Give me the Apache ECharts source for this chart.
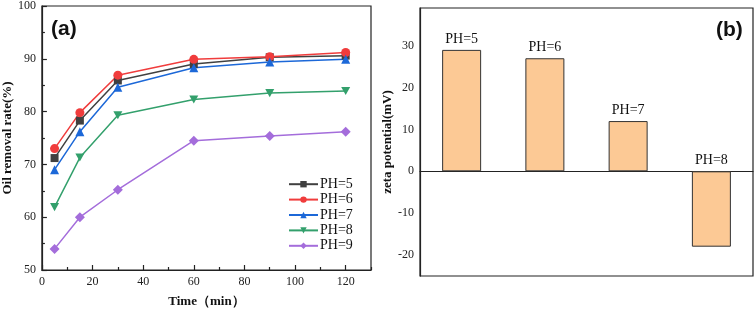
<!DOCTYPE html>
<html><head><meta charset="utf-8">
<script src="https://cdn.jsdelivr.net/npm/echarts@6/dist/echarts.min.js"></script>
<style>html,body{margin:0;padding:0;background:#fff}#c{width:756px;height:313px}</style>
</head><body><div id="c"></div>
<script>
var times = [5, 15, 30, 60, 90, 120];
var ph5 = [71.2, 78.3, 85.9, 89.0, 90.3, 90.6];
var ph6 = [73.0, 79.8, 86.9, 89.9, 90.4, 91.2];
var ph7 = [69.0, 76.2, 84.6, 88.3, 89.4, 89.9];
var ph8 = [61.9, 71.3, 79.3, 82.3, 83.5, 83.9];
var ph9 = [54.0, 60.0, 65.2, 74.5, 75.4, 76.2];
var lineNames = ['PH=5', 'PH=6', 'PH=7', 'PH=8', 'PH=9'];
var xTicks = [0, 20, 40, 60, 80, 100, 120];
var xMinorTicks = [10, 30, 50, 70, 90, 110, 130];
var barCats = ['PH=5', 'PH=6', 'PH=7', 'PH=8'];
var zeta = [29, 27, 12, -18];
var zTicks = [-20, -10, 0, 10, 20, 30];
var zMinorTicks = [-25, -15, -5, 5, 15, 25, 35];

var serif = 'Liberation Serif';
var sans = 'Liberation Sans';
var colors = ['#404040', '#f03c3c', '#1c68d8', '#33a06c', '#a46ddb'];
var symbols = ['rect', 'circle', 'triangle', 'path://M0,0 L10,0 L5,9 Z', 'diamond'];
var sizes = [8, 9, 9, 9, 10];
var lineData = [ph5, ph6, ph7, ph8, ph9];

var chart = echarts.init(document.getElementById('c'));
var axisLineStyle = {color: '#222', width: 1.2};
var series = lineData.map(function (d, i) {
  return {
    name: lineNames[i], type: 'line', xAxisIndex: 0, yAxisIndex: 0,
    data: times.map(function (t, k) { return [t, d[k]]; }),
    symbol: symbols[i], symbolSize: sizes[i], symbolKeepAspect: true,
    lineStyle: {color: colors[i], width: 1.5},
    itemStyle: {color: colors[i]}
  };
});
series.push({
  type: 'bar', xAxisIndex: 2, yAxisIndex: 2, data: zeta, barWidth: 39,
  itemStyle: {color: '#fcc995', borderColor: '#333', borderWidth: 1},
  label: {show: true, position: 'top', distance: 4, fontFamily: serif, fontSize: 14, color: '#111',
    formatter: function (p) { return barCats[p.dataIndex]; }}
});

var tickLabel = {fontFamily: serif, fontSize: 12, color: '#222', margin: 6};

chart.setOption({
  animation: false,
  textStyle: {fontFamily: serif},
  grid: [
    {left: 37, top: 5, width: 334, height: 270, show: true, borderColor: '#222', borderWidth: 1.2},
    {left: 420, top: 8, width: 333, height: 268, show: true, borderColor: '#222', borderWidth: 1.2}
  ],
  legend: {
    data: lineNames, orient: 'vertical', left: 288, top: 177, padding: 0, itemWidth: 29, itemHeight: 8,
    itemGap: 1, textStyle: {fontFamily: serif, fontSize: 14, color: '#111', lineHeight: 14.4, padding: [0,0,0,-3]}
  },
  title: [
    {text: '(a)', left: 51, top: 19, padding: 0, textStyle: {fontFamily: sans, fontWeight: 'bold', fontSize: 21, color: '#111'}},
    {text: '(b)', left: 716, top: 20, padding: 0, textStyle: {fontFamily: sans, fontWeight: 'bold', fontSize: 21, color: '#111'}}
  ],
  xAxis: [
    {type: 'value', gridIndex: 0, min: 0, max: 130,
      name: 'Time（min）', nameLocation: 'middle', nameGap: 25,
      nameTextStyle: {fontFamily: serif, fontWeight: 'bold', fontSize: 13, color: '#111'},
      axisLine: {lineStyle: axisLineStyle},
      axisTick: {inside: true, length: 5, lineStyle: axisLineStyle, customValues: xTicks},
      axisLabel: Object.assign({customValues: xTicks}, tickLabel),
      splitLine: {show: false}},
    {type: 'value', gridIndex: 0, min: 0, max: 130, position: 'bottom',
      axisLine: {show: false}, axisLabel: {show: false},
      axisTick: {inside: true, length: 3, lineStyle: axisLineStyle, customValues: xMinorTicks},
      splitLine: {show: false}},
    {type: 'category', gridIndex: 1, data: barCats,
      axisLine: {onZero: true, lineStyle: axisLineStyle}, axisTick: {show: false}, axisLabel: {show: false}}
  ],
  yAxis: [
    {type: 'value', gridIndex: 0, min: 50, max: 100, interval: 10,
      name: 'Oil removal rate(%)', nameLocation: 'middle', nameGap: 23,
      nameTextStyle: {fontFamily: serif, fontWeight: 'bold', fontSize: 13, color: '#111'},
      axisLine: {show: true, lineStyle: axisLineStyle},
      axisTick: {inside: true, length: 5, lineStyle: axisLineStyle},
      minorTick: {show: true, splitNumber: 2, length: 3, lineStyle: axisLineStyle},
      axisLabel: tickLabel,
      splitLine: {show: false}},
    {type: 'value', gridIndex: 1, min: -25, max: 39,
      name: 'zeta potential(mV)', nameLocation: 'middle', nameGap: 24,
      nameTextStyle: {fontFamily: serif, fontWeight: 'bold', fontSize: 13, color: '#111'},
      axisLine: {show: true, lineStyle: axisLineStyle},
      axisTick: {inside: true, length: 5, lineStyle: axisLineStyle, customValues: zTicks},
      axisLabel: Object.assign({customValues: zTicks}, tickLabel),
      splitLine: {show: false}},
    {type: 'value', gridIndex: 1, min: -25, max: 39, position: 'left',
      axisLine: {show: false}, axisLabel: {show: false},
      axisTick: {inside: true, length: 3, lineStyle: axisLineStyle, customValues: zMinorTicks},
      splitLine: {show: false}}
  ],
  series: series
});
</script></body></html>
